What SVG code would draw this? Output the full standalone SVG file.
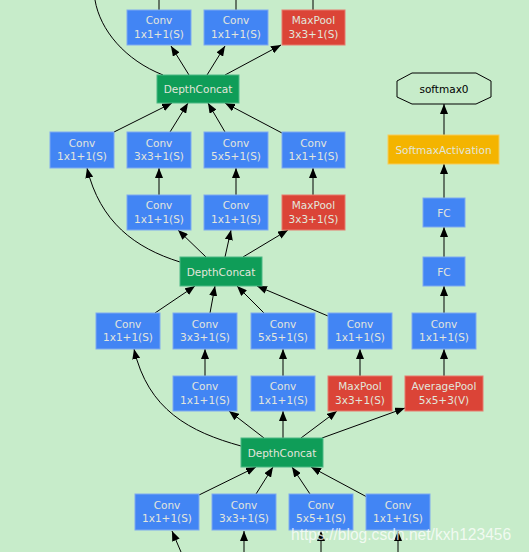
<svg xmlns="http://www.w3.org/2000/svg" width="529" height="552" viewBox="0 0 529 552">
<defs>
<marker id="a" viewBox="0 0 10 8" refX="10" refY="4" markerWidth="10" markerHeight="8" orient="auto" markerUnits="userSpaceOnUse"><path d="M0,0L10,4L0,8z" fill="#000"/></marker>
<style>
.conv{fill:#4285f4;stroke:#7fa9f0;stroke-width:1}
.pool{fill:#db4437;stroke:#e77a6e;stroke-width:1}
.dc{fill:#0f9d58;stroke:#4cb884;stroke-width:1}
.sm{fill:#f4b400;stroke:#f7cc5a;stroke-width:1}
.t{font-family:"DejaVu Sans",sans-serif;font-size:10.5px;fill:#e2e6dc;text-anchor:middle}
.e{fill:none;stroke:#000;stroke-width:1}
.ea{fill:none;stroke:#000;stroke-width:1;marker-end:url(#a)}
</style>
</defs>
<rect width="529" height="552" fill="#c7ecca"/>
<g id="edges">
<path class="e" d="M95,0 C100,30 125,60 163,75"/>
<path class="e" d="M159,10V0M236,10V0M313,10V0"/>
<path class="ea" d="M189,75L171,46"/>
<path class="ea" d="M207,75L225,46"/>
<path class="ea" d="M225,75L281,45"/>
<path class="ea" d="M114,132L172,103"/>
<path class="ea" d="M170,132L188,103"/>
<path class="ea" d="M225,132L208,103"/>
<path class="ea" d="M282,133L225,103"/>
<path class="ea" d="M159,195V168"/>
<path class="ea" d="M236,195V168"/>
<path class="ea" d="M313,195V168"/>
<path class="ea" d="M180,262C135,248 100,222 87,168"/>
<path class="ea" d="M206,257L178,230"/>
<path class="ea" d="M225,257L231,230"/>
<path class="ea" d="M243,257L288,230"/>
<path class="ea" d="M155,313L195,286"/>
<path class="ea" d="M210,313L215,286"/>
<path class="ea" d="M264,313L237,286"/>
<path class="ea" d="M328,316L257,286"/>
<path class="ea" d="M444,135V104"/>
<path class="ea" d="M444,198V164"/>
<path class="ea" d="M444,257V227"/>
<path class="ea" d="M444,313V286"/>
<path class="ea" d="M444,376V349"/>
<path class="ea" d="M205,376V349"/>
<path class="ea" d="M283,376V349"/>
<path class="ea" d="M360,376V349"/>
<path class="ea" d="M241,446C190,432 148,410 134,349"/>
<path class="ea" d="M264,438L229,411"/>
<path class="ea" d="M283,438V411"/>
<path class="ea" d="M301,438L337,411"/>
<path class="ea" d="M322,438L405,408"/>
<path class="ea" d="M199,495L256,467"/>
<path class="ea" d="M256,494L273,467"/>
<path class="ea" d="M310,494L292,467"/>
<path class="ea" d="M367,497L311,467"/>
<path class="ea" d="M181,552L172,531"/>
<path class="ea" d="M244,552V531"/>
<path class="ea" d="M321,552V531"/>
<path class="ea" d="M398,552V531"/>
</g>
<g id="r1c1"><rect class="conv" x="127" y="10" width="64" height="35"/><text class="t" x="159" y="24">Conv</text><text class="t" x="159" y="37.5">1x1+1(S)</text></g>
<g id="r1c2"><rect class="conv" x="204" y="10" width="64" height="35"/><text class="t" x="236" y="24">Conv</text><text class="t" x="236" y="37.5">1x1+1(S)</text></g>
<g id="r1c3"><rect class="pool" x="282" y="10" width="63" height="35"/><text class="t" x="313.5" y="24">MaxPool</text><text class="t" x="313.5" y="37.5">3x3+1(S)</text></g>
<g id="dc1"><rect class="dc" x="157" y="75" width="82" height="28"/><text class="t" x="198" y="93">DepthConcat</text></g>
<g id="softmax0"><polygon points="412,73 476,73 491,81 491,97 476,104 412,104 397,97 397,81" fill="none" stroke="#000" stroke-width="1"/><text class="t" x="444" y="93" style="fill:#000">softmax0</text></g>
<g id="r2c1"><rect class="conv" x="50" y="132" width="64" height="36"/><text class="t" x="82" y="146.5">Conv</text><text class="t" x="82" y="160">1x1+1(S)</text></g>
<g id="r2c2"><rect class="conv" x="127" y="132" width="64" height="36"/><text class="t" x="159" y="146.5">Conv</text><text class="t" x="159" y="160">3x3+1(S)</text></g>
<g id="r2c3"><rect class="conv" x="204" y="132" width="64" height="36"/><text class="t" x="236" y="146.5">Conv</text><text class="t" x="236" y="160">5x5+1(S)</text></g>
<g id="r2c4"><rect class="conv" x="282" y="132" width="63" height="36"/><text class="t" x="313.5" y="146.5">Conv</text><text class="t" x="313.5" y="160">1x1+1(S)</text></g>
<g id="smact"><rect class="sm" x="388" y="135" width="111" height="29"/><text class="t" x="443.5" y="153.5">SoftmaxActivation</text></g>
<g id="r3c1"><rect class="conv" x="127" y="195" width="64" height="35"/><text class="t" x="159" y="209">Conv</text><text class="t" x="159" y="222.5">1x1+1(S)</text></g>
<g id="r3c2"><rect class="conv" x="204" y="195" width="64" height="35"/><text class="t" x="236" y="209">Conv</text><text class="t" x="236" y="222.5">1x1+1(S)</text></g>
<g id="r3c3"><rect class="pool" x="282" y="195" width="63" height="35"/><text class="t" x="313.5" y="209">MaxPool</text><text class="t" x="313.5" y="222.5">3x3+1(S)</text></g>
<g id="fc1"><rect class="conv" x="423" y="198" width="42" height="29"/><text class="t" x="444" y="216.5">FC</text></g>
<g id="dc2"><rect class="dc" x="180" y="257" width="82" height="29"/><text class="t" x="221" y="275.5">DepthConcat</text></g>
<g id="fc2"><rect class="conv" x="423" y="257" width="42" height="29"/><text class="t" x="444" y="275.5">FC</text></g>
<g id="r4c1"><rect class="conv" x="96" y="313" width="64" height="36"/><text class="t" x="128" y="327.5">Conv</text><text class="t" x="128" y="341">1x1+1(S)</text></g>
<g id="r4c2"><rect class="conv" x="173" y="313" width="64" height="36"/><text class="t" x="205" y="327.5">Conv</text><text class="t" x="205" y="341">3x3+1(S)</text></g>
<g id="r4c3"><rect class="conv" x="251" y="313" width="64" height="36"/><text class="t" x="283" y="327.5">Conv</text><text class="t" x="283" y="341">5x5+1(S)</text></g>
<g id="r4c4"><rect class="conv" x="328" y="313" width="64" height="36"/><text class="t" x="360" y="327.5">Conv</text><text class="t" x="360" y="341">1x1+1(S)</text></g>
<g id="r4c5"><rect class="conv" x="412" y="313" width="64" height="36"/><text class="t" x="444" y="327.5">Conv</text><text class="t" x="444" y="341">1x1+1(S)</text></g>
<g id="r5c1"><rect class="conv" x="173" y="376" width="64" height="35"/><text class="t" x="205" y="390">Conv</text><text class="t" x="205" y="403.5">1x1+1(S)</text></g>
<g id="r5c2"><rect class="conv" x="251" y="376" width="64" height="35"/><text class="t" x="283" y="390">Conv</text><text class="t" x="283" y="403.5">1x1+1(S)</text></g>
<g id="r5c3"><rect class="pool" x="328" y="376" width="64" height="35"/><text class="t" x="360" y="390">MaxPool</text><text class="t" x="360" y="403.5">3x3+1(S)</text></g>
<g id="r5c4"><rect class="pool" x="405" y="376" width="78" height="35"/><text class="t" x="444" y="390">AveragePool</text><text class="t" x="444" y="403.5">5x5+3(V)</text></g>
<g id="dc3"><rect class="dc" x="241" y="438" width="82" height="29"/><text class="t" x="282" y="456.5">DepthConcat</text></g>
<g id="r6c1"><rect class="conv" x="135" y="494" width="64" height="36"/><text class="t" x="167" y="508.5">Conv</text><text class="t" x="167" y="522">1x1+1(S)</text></g>
<g id="r6c2"><rect class="conv" x="212" y="494" width="64" height="36"/><text class="t" x="244" y="508.5">Conv</text><text class="t" x="244" y="522">3x3+1(S)</text></g>
<g id="r6c3"><rect class="conv" x="289" y="494" width="64" height="36"/><text class="t" x="321" y="508.5">Conv</text><text class="t" x="321" y="522">5x5+1(S)</text></g>
<g id="r6c4"><rect class="conv" x="366" y="494" width="64" height="36"/><text class="t" x="398" y="508.5">Conv</text><text class="t" x="398" y="522">1x1+1(S)</text></g>
<text x="291" y="540" style="font-family:'Liberation Sans',Arial,sans-serif;font-size:15.6px;fill:#ffffff;fill-opacity:0.75">https://blog.csdn.net/kxh123456</text>
</svg>
